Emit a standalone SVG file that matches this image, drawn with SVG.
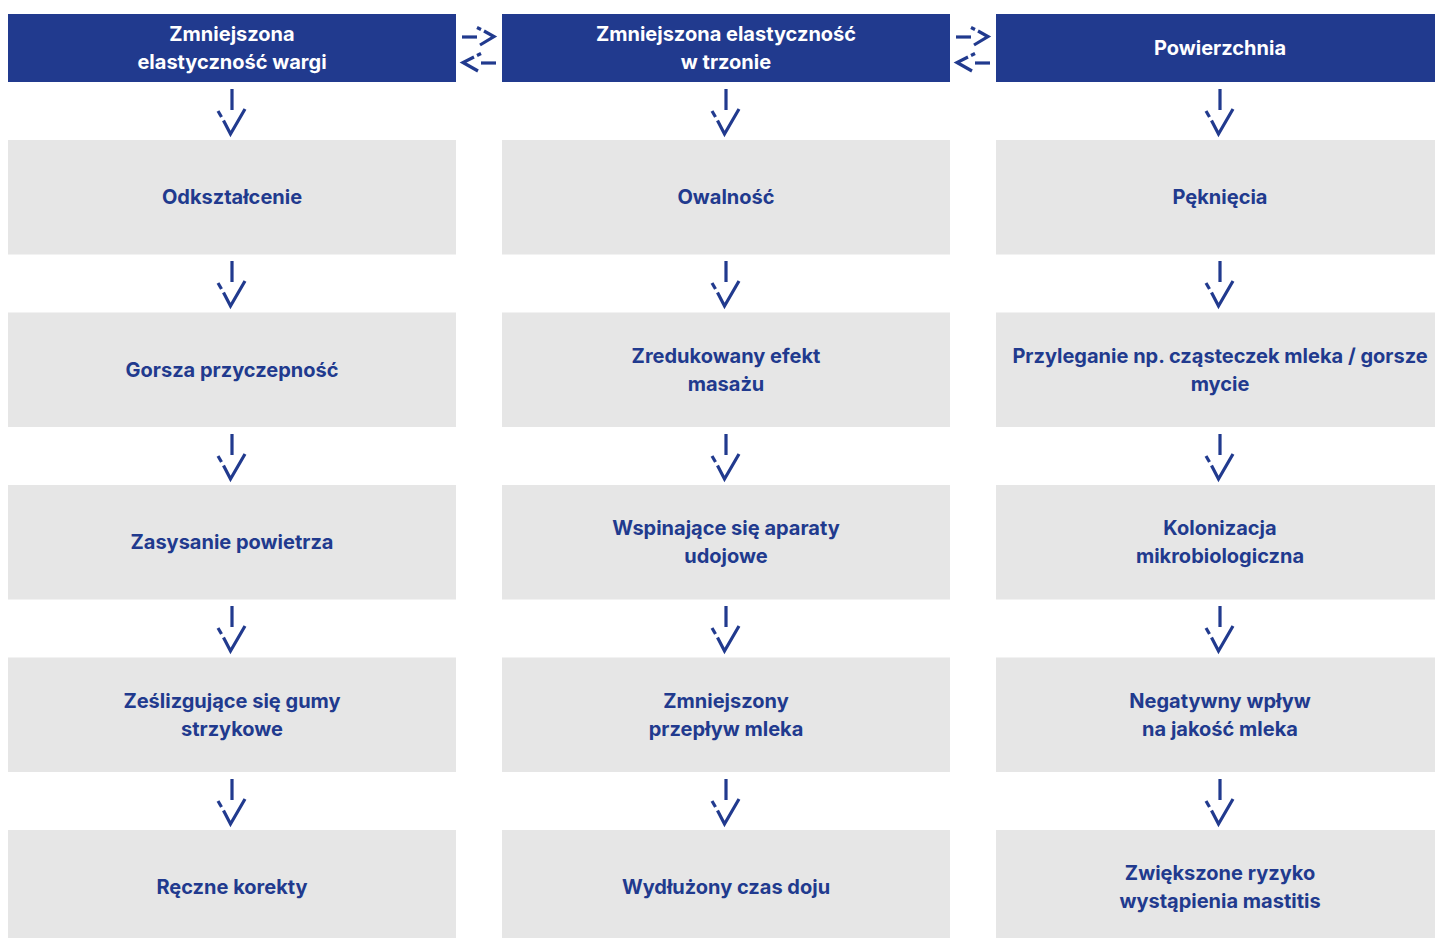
<svg xmlns="http://www.w3.org/2000/svg" xmlns:xlink="http://www.w3.org/1999/xlink" width="1435" height="938" viewBox="0 0 1435 938">
<style>
.hdr{fill:#213a8e}
.box{fill:#e6e6e6}
.t{font-family:Inter,"Noto Sans","Liberation Sans",sans-serif;font-weight:700;font-size:20px;text-anchor:middle;fill:#213a8e}
.th{fill:#ffffff}
.ar{fill:none;stroke:#213a8e;stroke-width:3.2;stroke-linecap:butt;stroke-linejoin:miter}
</style>
<defs>
<g id="down" class="ar">
<path d="M0,0 V21"/>
<path d="M-14,22 L-10.5,28"/>
<path d="M-8.5,31.5 L-1.5,45 L13,20"/>
</g>
<g id="swap" class="ar">
<path d="M462,37 H477"/>
<path d="M477,27.5 L481,29.5"/>
<path d="M484,31 L494,36.5 L480,45"/>
<path d="M496,63 H481"/>
<path d="M481,53.5 L477,55.5"/>
<path d="M474,57 L463,62.5 L478,71"/>
</g>
</defs>
<rect width="1435" height="938" fill="#ffffff"/>

<g id="connectors">
<use xlink:href="#swap"/>
<use xlink:href="#swap" x="494"/>
<use xlink:href="#down" x="232" y="89"/>
<use xlink:href="#down" x="232" y="261"/>
<use xlink:href="#down" x="232" y="434"/>
<use xlink:href="#down" x="232" y="606"/>
<use xlink:href="#down" x="232" y="779"/>
<use xlink:href="#down" x="726" y="89"/>
<use xlink:href="#down" x="726" y="261"/>
<use xlink:href="#down" x="726" y="434"/>
<use xlink:href="#down" x="726" y="606"/>
<use xlink:href="#down" x="726" y="779"/>
<use xlink:href="#down" x="1220" y="89"/>
<use xlink:href="#down" x="1220" y="261"/>
<use xlink:href="#down" x="1220" y="434"/>
<use xlink:href="#down" x="1220" y="606"/>
<use xlink:href="#down" x="1220" y="779"/>
</g>

<g id="h1"><rect class="hdr" x="8" y="14" width="448" height="68"/><text class="t th" x="232" y="41">Zmniejszona</text><text class="t th" x="232" y="69">elastyczność wargi</text></g>
<g id="h2"><rect class="hdr" x="502" y="14" width="448" height="68"/><text class="t th" x="726" y="41">Zmniejszona elastyczność</text><text class="t th" x="726" y="69">w trzonie</text></g>
<g id="h3"><rect class="hdr" x="996" y="14" width="448" height="68"/><text class="t th" x="1220" y="55">Powierzchnia</text></g>

<g id="a1"><rect class="box" x="8" y="140" width="448" height="114.5"/><text class="t" x="232" y="204">Odkształcenie</text></g>
<g id="a2"><rect class="box" x="8" y="312.5" width="448" height="114.5"/><text class="t" x="232" y="376.5">Gorsza przyczepność</text></g>
<g id="a3"><rect class="box" x="8" y="485" width="448" height="114.5"/><text class="t" x="232" y="549">Zasysanie powietrza</text></g>
<g id="a4"><rect class="box" x="8" y="657.5" width="448" height="114.5"/><text class="t" x="232" y="707.5">Ześlizgujące się gumy</text><text class="t" x="232" y="735.5">strzykowe</text></g>
<g id="a5"><rect class="box" x="8" y="830" width="448" height="114.5"/><text class="t" x="232" y="894">Ręczne korekty</text></g>

<g id="b1"><rect class="box" x="502" y="140" width="448" height="114.5"/><text class="t" x="726" y="204">Owalność</text></g>
<g id="b2"><rect class="box" x="502" y="312.5" width="448" height="114.5"/><text class="t" x="726" y="362.5">Zredukowany efekt</text><text class="t" x="726" y="390.5">masażu</text></g>
<g id="b3"><rect class="box" x="502" y="485" width="448" height="114.5"/><text class="t" x="726" y="535">Wspinające się aparaty</text><text class="t" x="726" y="563">udojowe</text></g>
<g id="b4"><rect class="box" x="502" y="657.5" width="448" height="114.5"/><text class="t" x="726" y="707.5">Zmniejszony</text><text class="t" x="726" y="735.5">przepływ mleka</text></g>
<g id="b5"><rect class="box" x="502" y="830" width="448" height="114.5"/><text class="t" x="726" y="894">Wydłużony czas doju</text></g>

<g id="c1"><rect class="box" x="996" y="140" width="448" height="114.5"/><text class="t" x="1220" y="204">Pęknięcia</text></g>
<g id="c2"><rect class="box" x="996" y="312.5" width="448" height="114.5"/><text class="t" x="1220" y="362.5">Przyleganie np. cząsteczek mleka / gorsze</text><text class="t" x="1220" y="390.5">mycie</text></g>
<g id="c3"><rect class="box" x="996" y="485" width="448" height="114.5"/><text class="t" x="1220" y="535">Kolonizacja</text><text class="t" x="1220" y="563">mikrobiologiczna</text></g>
<g id="c4"><rect class="box" x="996" y="657.5" width="448" height="114.5"/><text class="t" x="1220" y="707.5">Negatywny wpływ</text><text class="t" x="1220" y="735.5">na jakość mleka</text></g>
<g id="c5"><rect class="box" x="996" y="830" width="448" height="114.5"/><text class="t" x="1220" y="880">Zwiększone ryzyko</text><text class="t" x="1220" y="908">wystąpienia mastitis</text></g>
</svg>
